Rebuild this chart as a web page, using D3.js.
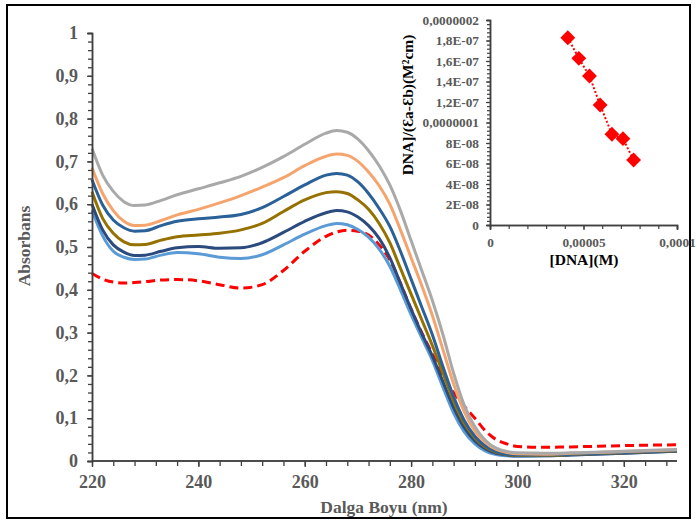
<!DOCTYPE html>
<html>
<head>
<meta charset="utf-8">
<script src="https://cdn.jsdelivr.net/npm/d3@7"></script>
<style>
html,body{margin:0;padding:0;background:#fff;}
svg{display:block;}
text{font-family:"Liberation Serif","Times New Roman",serif;font-weight:bold;}
</style>
</head>
<body>
<svg id="chart" width="697" height="524"></svg>
<script>
// ---------- DATA ----------
const wavelength = [220,222,224,226,228,230,233,236,240,244,248,252,256,260,264,266,268,270,272,274,276,278,280,282,284,286,288,290,292,294,296,298,300,305,310,320,330];

const absRed = [.438,.425,.418,.416,.417,.419,.423,.424,.421,.412,.404,.412,.445,.490,.525,.535,.539,.537,.528,.505,.470,.415,.355,.300,.250,.200,.160,.128,.100,.070,.050,.040,.034,.032,.033,.036,.038];
const absLightBlue = [.586,.526,.490,.476,.471,.472,.481,.487,.484,.476,.473,.482,.505,.530,.550,.555,.552,.541,.523,.495,.455,.400,.342,.288,.235,.172,.112,.068,.040,.023,.015,.012,.011,.012,.014,.018,.023];
const absNavy = [.600,.540,.505,.488,.480,.481,.490,.498,.501,.497,.498,.510,.534,.560,.580,.585,.582,.570,.550,.520,.475,.415,.355,.298,.245,.185,.125,.078,.047,.028,.018,.014,.012,.012,.014,.018,.023];
const absOlive = [.629,.567,.532,.512,.505,.506,.516,.524,.528,.532,.540,.555,.583,.610,.627,.629,.625,.610,.588,.555,.510,.450,.390,.330,.270,.205,.140,.088,.054,.032,.020,.015,.013,.013,.015,.019,.024];
const absBlue = [.657,.598,.563,.545,.537,.538,.550,.560,.566,.570,.576,.592,.618,.645,.668,.672,.668,.652,.625,.590,.548,.490,.425,.360,.295,.220,.150,.095,.058,.035,.022,.016,.014,.014,.016,.020,.025];
const absOrange = [.685,.625,.585,.560,.550,.551,.562,.575,.588,.603,.620,.640,.662,.690,.712,.717,.714,.700,.675,.643,.600,.540,.475,.410,.340,.260,.180,.115,.070,.043,.027,.020,.017,.016,.018,.022,.026];
const absGray = [.730,.668,.630,.606,.597,.598,.609,.622,.636,.650,.665,.686,.711,.740,.766,.772,.768,.752,.725,.690,.645,.585,.515,.445,.375,.295,.205,.130,.080,.048,.030,.022,.019,.018,.019,.023,.027];

const xTickValues = [220,240,260,280,300,320];
const yTickValues = [0,0.1,0.2,0.3,0.4,0.5,0.6,0.7,0.8,0.9,1];
const yTickLabels = ["0","0,1","0,2","0,3","0,4","0,5","0,6","0,7","0,8","0,9","1"];

// inset
const dnaConc = [4.16e-5,4.75e-5,5.32e-5,5.89e-5,6.52e-5,7.11e-5,7.68e-5];
const dnaRatio = [1.827e-7,1.626e-7,1.454e-7,1.171e-7,0.885e-7,0.842e-7,0.634e-7];
const insetXTicks = [0,0.00005,0.0001];
const insetXLabels = ["0","0,00005","0,0001"];
const insetYTicks = [0,2e-8,4e-8,6e-8,8e-8,1e-7,1.2e-7,1.4e-7,1.6e-7,1.8e-7,2e-7];
const insetYLabels = ["0","2E-08","4E-08","6E-08","8E-08","0,0000001","1,2E-07","1,4E-07","1,6E-07","1,8E-07","0,0000002"];

// ---------- STYLES ----------
const seriesList = [
  {values: absRed, color: "#FF0000", dash: "9,5"},
  {values: absLightBlue, color: "#5B9BD5"},
  {values: absNavy, color: "#2B4A7E"},
  {values: absOlive, color: "#957200"},
  {values: absBlue, color: "#2A6198"},
  {values: absOrange, color: "#F5A46E"},
  {values: absGray, color: "#A9A9A9"}
];
const axisColor = "#404040";
const labelColor = "#595959";

const svg = d3.select("#chart");

// border
svg.append("rect").attr("x",7).attr("y",5).attr("width",683).attr("height",513)
  .attr("fill","none").attr("stroke","#000").attr("stroke-width",2);

// ---------- MAIN CHART ----------
const x = d3.scaleLinear().domain([220,330]).range([92,677]);
const y = d3.scaleLinear().domain([0,1]).range([461,33]);

const line = d3.line().curve(d3.curveMonotoneX);

const gLines = svg.append("g");
seriesList.forEach(s => {
  gLines.append("path")
    .attr("d", line(wavelength.map((w,i)=>[x(w), y(s.values[i])])))
    .attr("fill","none")
    .attr("stroke", s.color)
    .attr("stroke-width", 3)
    .attr("stroke-dasharray", s.dash || null)
    .attr("stroke-linejoin","round");
});

// y axis
const yMinor = d3.range(0, 1.0001, 0.02);
const yAxisMinor = d3.axisLeft(y).tickValues(yMinor).tickSize(4).tickFormat("");
const gYm = svg.append("g").attr("transform","translate(92,0)").call(yAxisMinor);
const yAxis = d3.axisLeft(y).tickValues(yTickValues).tickSize(5)
  .tickFormat((d,i)=>yTickLabels[i]).tickPadding(9);
const gY = svg.append("g").attr("transform","translate(92,0)").call(yAxis);

// x axis
const xMinor = d3.range(220, 330.01, 4);
const xAxisMinor = d3.axisBottom(x).tickValues(xMinor).tickSize(5).tickFormat("");
const gXm = svg.append("g").attr("transform","translate(0,461)").call(xAxisMinor);
const xAxis = d3.axisBottom(x).tickValues(xTickValues).tickSize(6).tickFormat(d=>String(d)).tickPadding(8);
const gX = svg.append("g").attr("transform","translate(0,461)").call(xAxis);

[gYm,gY,gXm,gX].forEach(g=>{
  g.select(".domain").attr("stroke",axisColor).attr("stroke-width",1.5);
  g.selectAll(".tick line").attr("stroke",axisColor).attr("stroke-width",1.3);
  g.selectAll(".tick text").attr("fill",labelColor).style("font-size","18px")
    .style("font-family",'"Liberation Serif","Times New Roman",serif').style("font-weight","bold");
});
gX.select(".domain").attr("d","M92,0H677");
gXm.select(".domain").attr("d","M92,0H677");

// titles
svg.append("text").attr("x",384).attr("y",513).attr("text-anchor","middle")
  .attr("fill",labelColor).style("font-size","17.5px").text("Dalga Boyu (nm)");
svg.append("text").attr("transform","translate(30,246) rotate(-90)").attr("text-anchor","middle")
  .attr("fill",labelColor).style("font-size","17.5px").text("Absorbans");

// ---------- INSET ----------
const ix = d3.scaleLinear().domain([0,0.0001]).range([490,677]);
const iy = d3.scaleLinear().domain([0,2e-7]).range([225,20]);

const iyMinor = d3.range(0, 2.0001e-7, 0.4e-8);
const gIym = svg.append("g").attr("transform","translate(490,0)")
  .call(d3.axisLeft(iy).tickValues(iyMinor).tickSize(3).tickFormat(""));
const gIy = svg.append("g").attr("transform","translate(490,0)")
  .call(d3.axisLeft(iy).tickValues(insetYTicks).tickSize(4).tickPadding(7).tickFormat((d,i)=>insetYLabels[i]));
const ixMinor = d3.range(0, 0.000100001, 0.00001);
const gIxm = svg.append("g").attr("transform","translate(0,225)")
  .call(d3.axisBottom(ix).tickValues(ixMinor).tickSize(4).tickFormat(""));
const gIx = svg.append("g").attr("transform","translate(0,225)")
  .call(d3.axisBottom(ix).tickValues(insetXTicks).tickSize(5).tickPadding(8).tickFormat((d,i)=>insetXLabels[i]));
[gIym,gIy,gIxm,gIx].forEach(g=>{
  g.select(".domain").attr("stroke",axisColor).attr("stroke-width",1.5);
  g.selectAll(".tick line").attr("stroke",axisColor).attr("stroke-width",1.2);
  g.selectAll(".tick text").attr("fill",labelColor).style("font-size","13.3px")
    .style("font-family",'"Liberation Serif","Times New Roman",serif').style("font-weight","bold");
});

const pts = dnaConc.map((c,i)=>[ix(c), iy(dnaRatio[i])]);
svg.append("path").attr("d", d3.line()(pts)).attr("fill","none")
  .attr("stroke","#FF0000").attr("stroke-width",2).attr("stroke-dasharray","2,2");
svg.append("g").selectAll("path.m").data(pts).join("path")
  .attr("transform",d=>`translate(${d[0]},${d[1]}) rotate(45)`)
  .attr("d", d3.symbol().type(d3.symbolSquare).size(110)())
  .attr("fill","#FF0000");

svg.append("text").attr("x",584).attr("y",265).attr("text-anchor","middle")
  .attr("fill","#000").style("font-size","15.5px").text("[DNA](M)");
svg.append("text").attr("transform","translate(413,105) rotate(-90)").attr("text-anchor","middle")
  .attr("fill","#000").style("font-size","15.5px").text("DNA]/(Ɛa-Ɛb)(M²cm)");
</script>
</body>
</html>
